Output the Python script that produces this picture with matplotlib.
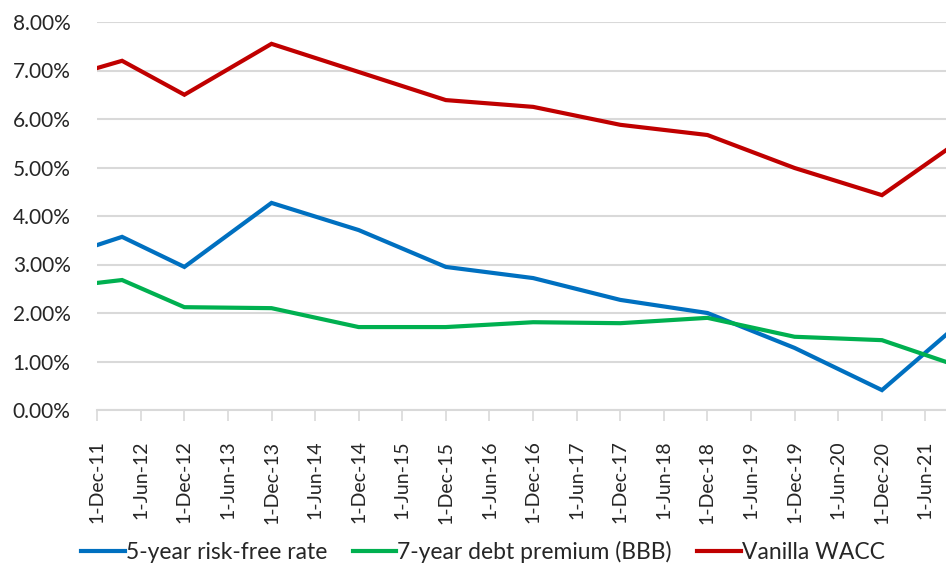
import matplotlib
matplotlib.use("Agg")
import matplotlib.pyplot as plt
import matplotlib.dates as mdates
from matplotlib.ticker import FuncFormatter
import datetime as dt

plt.rcParams['font.family'] = ['Lato', 'DejaVu Sans']

dates = ["2011-12-01", "2012-03-15", "2012-12-01", "2013-12-01", "2014-12-01",
         "2015-12-01", "2016-12-01", "2017-12-01", "2018-12-01", "2019-12-01",
         "2020-12-01", "2021-12-01"]
risk_free = [3.40, 3.57, 2.95, 4.27, 3.71, 2.95, 2.72, 2.27, 2.00, 1.28, 0.41, 1.96]
debt_premium = [2.62, 2.68, 2.12, 2.10, 1.71, 1.71, 1.81, 1.79, 1.90, 1.51, 1.44, 0.83]
wacc = [7.05, 7.20, 6.50, 7.55, 6.97, 6.39, 6.25, 5.88, 5.67, 4.99, 4.43, 5.69]

tick_labels = ["1-Dec-11", "1-Jun-12", "1-Dec-12", "1-Jun-13", "1-Dec-13", "1-Jun-14",
               "1-Dec-14", "1-Jun-15", "1-Dec-15", "1-Jun-16", "1-Dec-16", "1-Jun-17",
               "1-Dec-17", "1-Jun-18", "1-Dec-18", "1-Jun-19", "1-Dec-19", "1-Jun-20",
               "1-Dec-20", "1-Jun-21"]
y_ticks = [0, 1, 2, 3, 4, 5, 6, 7, 8]

series_names = ["5-year risk-free rate", "7-year debt premium (BBB)", "Vanilla WACC"]
colors = ["#0070C0", "#00B050", "#C00000"]

x = [dt.datetime.strptime(d, "%Y-%m-%d") for d in dates]
tick_dates = [dt.datetime.strptime(t, "%d-%b-%y") for t in tick_labels]

fig = plt.figure(figsize=(9.46, 5.70), dpi=100)
ax = fig.add_axes([97/946, 1 - 410/570, 1 - 97/946, (410 - 22)/570])

for vals, name, c in zip([risk_free, debt_premium, wacc], series_names, colors):
    ax.plot(x, vals, color=c, lw=3.0, label=name, solid_joinstyle='miter', zorder=3)

ax.set_ylim(0, 8)
ax.set_yticks(y_ticks)
ax.yaxis.set_major_formatter(FuncFormatter(lambda v, p: f"{v:.2f}%"))

x0 = mdates.date2num(tick_dates[0])
step = (mdates.date2num(tick_dates[-1]) - x0) / (len(tick_dates) - 1)
ax.set_xlim(x0, x0 + step * (946 - 97) / 43.6)
ax.set_xticks(tick_dates)
ax.set_xticklabels(tick_labels, rotation=90, fontsize=14, color="#262626")

ax.grid(axis='y', color="#d9d9d9", lw=1.5, zorder=0)
for s in ['top', 'right', 'left']:
    ax.spines[s].set_visible(False)
ax.spines['bottom'].set_color("#d9d9d9")
ax.spines['bottom'].set_linewidth(1.5)
ax.tick_params(axis='y', length=0, labelsize=15, labelcolor="#262626", pad=19)
ax.tick_params(axis='x', length=8, width=1.2, color="#d9d9d9", pad=14)

leg = fig.legend(loc='center', bbox_to_anchor=(483/946, 1 - 552/570), ncol=3,
                 frameon=False, fontsize=16.5, handlelength=1.9, handletextpad=0.05,
                 columnspacing=1.1)
for t in leg.get_texts():
    t.set_color("#262626")

fig.savefig("out.png", dpi=100)
